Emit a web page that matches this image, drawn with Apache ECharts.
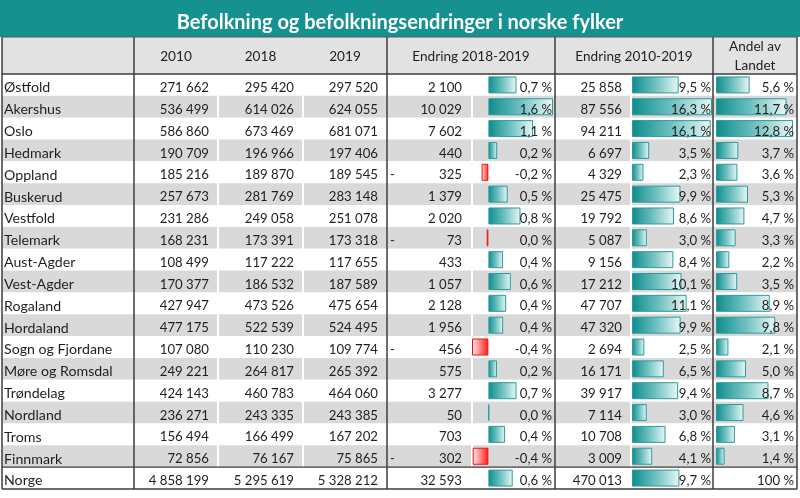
<!DOCTYPE html>
<html><head><meta charset="utf-8">
<script src="https://cdn.jsdelivr.net/npm/echarts@6/dist/echarts.min.js"></script>
<style>html,body{margin:0;padding:0;background:#fff}#c{width:800px;height:498px}</style>
</head><body><div id="c"></div>
<script>
// ---------- data ----------
const tittel = 'Befolkning og befolkningsendringer i norske fylker';
const kolonneTitler = ['2010', '2018', '2019', 'Endring 2018-2019', 'Endring 2010-2019', 'Andel av\nLandet'];
const fylker = ['Østfold','Akershus','Oslo','Hedmark','Oppland','Buskerud','Vestfold','Telemark','Aust-Agder','Vest-Agder','Rogaland','Hordaland','Sogn og Fjordane','Møre og Romsdal','Trøndelag','Nordland','Troms','Finnmark','Norge'];
const bef2010 = [271662,536499,586860,190709,185216,257673,231286,168231,108499,170377,427947,477175,107080,249221,424143,236271,156494,72856,4858199];
const bef2018 = [295420,614026,673469,196966,189870,281769,249058,173391,117222,186532,473526,522539,110230,264817,460783,243335,166499,76167,5295619];
const bef2019 = [297520,624055,681071,197406,189545,283148,251078,173318,117655,187589,475654,524495,109774,265392,464060,243385,167202,75865,5328212];
const endring1819 = [2100,10029,7602,440,-325,1379,2020,-73,433,1057,2128,1956,-456,575,3277,50,703,-302,32593];
const pst1819 = [0.711,1.633,1.129,0.223,-0.171,0.489,0.811,-0.042,0.369,0.567,0.449,0.374,-0.414,0.217,0.711,0.021,0.422,-0.397,0.615];
const endring1019 = [25858,87556,94211,6697,4329,25475,19792,5087,9156,17212,47707,47320,2694,16171,39917,7114,10708,3009,470013];
const pst1019 = [9.518,16.320,16.053,3.512,2.337,9.886,8.557,3.024,8.439,10.102,11.148,9.917,2.516,6.489,9.411,3.011,6.842,4.130,9.675];
const andel = [5.584,11.712,12.782,3.705,3.557,5.314,4.712,3.253,2.208,3.521,8.927,9.844,2.060,4.981,8.709,4.568,3.138,1.424,100];
const totalRad = 'Norge';

// ---------- layout / style ----------
const FONT = 'Lato, "Open Sans", sans-serif';
const FS_NAME = 14.2, FS_NUM = 13.2, FS_HEAD = 13.6;
const TXT = '#1f1f1f';
const TEAL = '#15918f';
const LINE = '#3c3c3c';
const BODY_TOP = 74, BODY_BOTTOM = 489, HEAD_TOP = 37;
const T_LEFT = 2, T_RIGHT = 797;
const rowH = (BODY_BOTTOM - BODY_TOP) / fylker.length;
const TEXT_DY = 2.8;
// column edges
const C = {name:[2,134], p2010:[134,218], p2018:[218,303], p2019:[303,387], chg1819:[387,472], bar1819:[472,555], chg1019:[555,632], bar1019:[632,713], andel:[713,797]};

function fmtInt(n){ return Math.abs(n).toString().replace(/\B(?=(\d{3})+(?!\d))/g, ' '); }
function fmtPct(v){
  if (Number.isInteger(v)) return v + ' %';
  let s = (Math.round(v*10)/10).toFixed(1);
  if (s === '-0.0') s = '0.0';
  return s.replace('.', ',') + ' %';
}

function tekstKolonne(x, align, tekster, fs){
  return {
    type:'custom', xAxisIndex:0, yAxisIndex:0, z:20, silent:true, clip:false,
    data: tekster.map((t,i)=>[x,i]),
    renderItem(params, api){
      const p = api.coord([api.value(0), api.value(1)]);
      return {type:'text', x:p[0], y:p[1]+TEXT_DY, style:{text:tekster[params.dataIndex], align:align, verticalAlign:'middle', fill:TXT, font: (fs||FS_NUM)+'px '+FONT}};
    }
  };
}

const tealGrad = {type:'linear', x:0, y:0, x2:1, y2:0, colorStops:[{offset:0,color:'#0d8c8c'},{offset:0.5,color:'#6fc0c0'},{offset:1,color:'#eaf7f7'}]};
const redGrad = {type:'linear', x:0, y:0, x2:1, y2:0, colorStops:[{offset:0,color:'#ffeeee'},{offset:1,color:'#ff1a1a'}]};
const tealStyle = {color:tealGrad, borderColor:'#2b9c9c', borderWidth:1};
const redStyle = {color:redGrad, borderColor:'#f01010', borderWidth:1};

function barData(arr){
  return arr.map(v => v === '-' ? '-' : {value:v, itemStyle: v < 0 ? redStyle : tealStyle});
}
const andelBar = andel.map((v,i)=> fylker[i] === totalRad ? '-' : v);
const andelMax = Math.max(...andelBar.filter(v=>v!=='-'));

function hiddenCatY(gi){
  return {type:'category', gridIndex:gi, data:fylker, inverse:true, show:gi===0,
    axisLine:{show:false}, axisTick:{show:false}, axisLabel:{show:false},
    splitArea: gi===0 ? {show:true, areaStyle:{color:['#ffffff','#d9d9d9']}} : {show:false},
    splitLine:{show:false}};
}
function hiddenValX(gi, min, max){
  return {type:'value', gridIndex:gi, min:min, max:max, show:false, splitLine:{show:false}};
}

const grids = [
  {left:T_LEFT, width:T_RIGHT-T_LEFT, top:BODY_TOP, height:BODY_BOTTOM-BODY_TOP},
  {left:472, width:81, top:BODY_TOP, height:BODY_BOTTOM-BODY_TOP},
  {left:632, width:80, top:BODY_TOP, height:BODY_BOTTOM-BODY_TOP},
  {left:716, width:77, top:BODY_TOP, height:BODY_BOTTOM-BODY_TOP}
];

const minus = endring1819.map(v => v < 0 ? '-' : '');

const series = [
  // white cell separators inside grey rows
  {type:'line', xAxisIndex:0, yAxisIndex:0, data:[], silent:true,
    markLine:{silent:true, symbol:'none', label:{show:false}, lineStyle:{color:'#ffffff', width:2, type:'solid'},
      data:[{xAxis:C.p2018[0]},{xAxis:C.p2019[0]},{xAxis:C.bar1819[0]},{xAxis:C.bar1019[0]-1}]}},
  {type:'bar', xAxisIndex:1, yAxisIndex:1, barWidth:17, silent:true, data:barData(pst1819), z:5},
  {type:'bar', xAxisIndex:2, yAxisIndex:2, barWidth:17, silent:true, data:barData(pst1019), z:5},
  {type:'bar', xAxisIndex:3, yAxisIndex:3, barWidth:17, silent:true, data:barData(andelBar), z:5},
  tekstKolonne(C.name[0]+2, 'left', fylker, FS_NAME),
  tekstKolonne(C.p2010[1]-9, 'right', bef2010.map(fmtInt)),
  tekstKolonne(C.p2018[1]-9, 'right', bef2018.map(fmtInt)),
  tekstKolonne(C.p2019[1]-9, 'right', bef2019.map(fmtInt)),
  tekstKolonne(C.chg1819[0]+3, 'left', minus),
  tekstKolonne(C.chg1819[1]-10, 'right', endring1819.map(fmtInt)),
  tekstKolonne(C.bar1819[1]-3, 'right', pst1819.map(fmtPct)),
  tekstKolonne(C.chg1019[1]-10, 'right', endring1019.map(fmtInt)),
  tekstKolonne(C.bar1019[1]-2, 'right', pst1019.map(fmtPct)),
  tekstKolonne(C.andel[1]-3, 'right', andel.map(fmtPct))
];

// header + borders (decoration)
const headCenters = [
  (C.p2010[0]+C.p2010[1])/2, (C.p2018[0]+C.p2018[1])/2, (C.p2019[0]+C.p2019[1])/2,
  (C.chg1819[0]+C.bar1819[1])/2, (C.chg1019[0]+C.bar1019[1])/2, (C.andel[0]+C.andel[1])/2
];
const headMid = (HEAD_TOP + BODY_TOP)/2 + 1.5;
const graphic = [
  {type:'rect', shape:{x:0, y:0, width:800, height:HEAD_TOP}, style:{fill:TEAL}, z:0, silent:true},
  {type:'rect', shape:{x:T_LEFT, y:HEAD_TOP, width:T_RIGHT-T_LEFT, height:BODY_TOP-HEAD_TOP}, style:{fill:'#e2e2e2'}, z:0, silent:true}
];
kolonneTitler.forEach((t,i)=>{
  graphic.push({type:'text', x:headCenters[i], y: t.indexOf('\n')>=0 ? headMid-1 : headMid, z:100, silent:true,
    style:{text:t, align:'center', verticalAlign:'middle', fill:TXT, font:FS_HEAD+'px '+FONT, lineHeight:19}});
});
function vline(x, y1, y2, w, c){ graphic.push({type:'line', shape:{x1:x,y1:y1,x2:x,y2:y2}, style:{stroke:c||LINE, lineWidth:w||1.5}, z:100, silent:true}); }
function hline(y, w, c){ graphic.push({type:'line', shape:{x1:T_LEFT,y1:y,x2:T_RIGHT,y2:y}, style:{stroke:c||LINE, lineWidth:w||1.5}, z:100, silent:true}); }
[C.name[1], C.p2019[1], C.bar1819[1], C.bar1019[1]].forEach(x=>vline(x, HEAD_TOP, BODY_BOTTOM, 1.5));
vline(T_LEFT, HEAD_TOP, BODY_BOTTOM, 1.5);
vline(T_RIGHT, HEAD_TOP, BODY_BOTTOM, 1.5);
hline(HEAD_TOP, 1, '#5a5a5a');
hline(BODY_TOP, 1.5);
hline(BODY_TOP + (fylker.length-1)*rowH, 1.2);
hline(BODY_BOTTOM, 1.5);

const chart = echarts.init(document.getElementById('c'), null, {renderer:'canvas'});
chart.setOption({
  animation:false,
  backgroundColor:'#ffffff',
  title:{text:tittel, left:'center', top:8, textStyle:{color:'#ffffff', fontSize:20, fontWeight:'bold', fontFamily:FONT}, z:50},
  grid:grids,
  xAxis:[hiddenValX(0, T_LEFT, T_RIGHT), hiddenValX(1, Math.min(...pst1819), Math.max(...pst1819)), hiddenValX(2, 0, Math.max(...pst1019)), hiddenValX(3, 0, andelMax)],
  yAxis:[hiddenCatY(0), hiddenCatY(1), hiddenCatY(2), hiddenCatY(3)],
  series:series,
  graphic:graphic
});
</script></body></html>
